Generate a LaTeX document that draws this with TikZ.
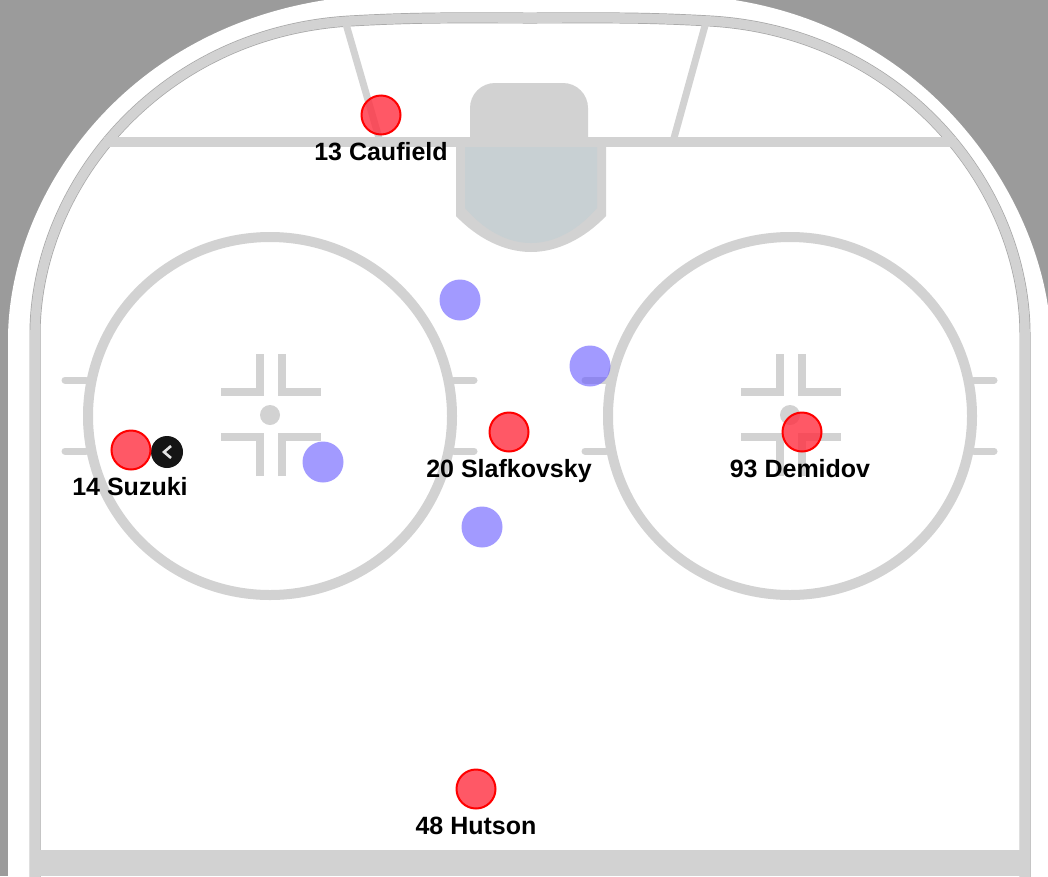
\documentclass[tikz,border=0pt]{standalone}
\usepackage{fontspec}
\setmainfont{Liberation Sans}
\definecolor{bgrey}{HTML}{9B9B9B}
\definecolor{lineg}{HTML}{D2D2D2}
\definecolor{edgeg}{HTML}{A6A6A6}
\definecolor{creaseblue}{HTML}{C8D0D3}
\definecolor{redfill}{RGB}{255,47,64}
\definecolor{bluefill}{RGB}{100,88,255}
\definecolor{puckblack}{HTML}{151515}
\tikzset{
  rinkline/.style={draw=lineg,line width=#1},
  rinkline/.default=7pt,
  hashmark/.style={draw=lineg,line width=7pt,line cap=round},
  facemark/.style={draw=lineg,line width=7.5pt},
  redplayer/.style={circle,draw=red,line width=2pt,fill=redfill,fill opacity=.8,minimum size=39pt,inner sep=0pt},
  blueplayer/.style={circle,fill=bluefill,fill opacity=.6,minimum size=41pt,inner sep=0pt},
  plabel/.style={font=\bfseries\fontsize{25}{27}\selectfont,text=black,inner sep=0pt,anchor=base},
  boardpath/.style={insert path={(35,880) -- (35,335) .. controls (35,185) and (160,32) .. (350,21) .. controls (420,17) and (460,18) .. (530,18) .. controls (600,18) and (640,17) .. (710,21) .. controls (900,32) and (1025,185) .. (1025,335) -- (1025,880)}},
  surroundpath/.style={insert path={(8,880) -- (8,340) .. controls (8,200) and (120,25) .. (340,-2) -- (720,-2) .. controls (940,25) and (1051,215) .. (1051,345) -- (1051,880) -- cycle}}
}
\begin{document}
\begin{tikzpicture}[x=1pt,y=-1pt]
\useasboundingbox (0,0) rectangle (1048,876);
\clip (0,0) rectangle (1048,876);
\fill[bgrey] (0,0) rectangle (1048,876);
% white rink surround
\fill[white,surroundpath];
% boards
\draw[edgeg,line width=11pt,boardpath];
\draw[lineg,line width=9.6pt,boardpath];
\fill[lineg] (29.5,850) rectangle (1030,876);
% goal lines and trapezoid
\draw[rinkline=10pt] (104,142) -- (956,142);
\draw[rinkline=7pt] (346,24) -- (379,138);
\draw[rinkline=7pt] (706,22) -- (674,138);
% net
\fill[lineg,rounded corners=25pt] (470,170) -- (470,83) -- (588,83) -- (588,170) -- cycle;
% crease
\fill[lineg] (456,137) -- (606,137) -- (606,216) .. controls (585,238) and (558,252) .. (531,252) .. controls (504,252) and (477,238) .. (456,216) -- cycle;
\fill[creaseblue] (465,147) -- (597,147) -- (597,208) .. controls (578,230) and (555,243) .. (531,243) .. controls (507,243) and (484,230) .. (465,208) -- cycle;
% faceoff circles
\foreach \cx in {270,790}{
  \draw[rinkline=10pt] (\cx,416) ellipse [x radius=182,y radius=179];
  \fill[lineg] (\cx,415) circle (10);
  \draw[facemark] (\cx-10,354) -- (\cx-10,392) -- (\cx-49,392);
  \draw[facemark] (\cx+12,354) -- (\cx+12,392) -- (\cx+51,392);
  \draw[facemark] (\cx-10,476) -- (\cx-10,437) -- (\cx-49,437);
  \draw[facemark] (\cx+12,476) -- (\cx+12,437) -- (\cx+51,437);
  \foreach \hy in {380,451}{
    \draw[hashmark] (\cx-205,\hy) -- (\cx-184,\hy);
    \draw[hashmark] (\cx+184,\hy) -- (\cx+204,\hy);
  }
}
% defenders
\node[blueplayer] (b1) at (460,300) {};
\node[blueplayer] (b2) at (590,366) {};
\node[blueplayer] (b3) at (323,462) {};
\node[blueplayer] (b4) at (482,527) {};
% puck icon
\node[circle,fill=puckblack,minimum size=32pt,inner sep=0pt] (puck) at (167,452) {};
\draw[white!90!black,line width=2.6pt] (171,446) -- (164,452) -- (171,458);
% attackers
\node[redplayer] (caufield) at (381,115) {};
\node[redplayer] (suzuki) at (131,450) {};
\node[redplayer] (slaf) at (509,432) {};
\node[redplayer] (demidov) at (802,432) {};
\node[redplayer] (hutson) at (476,789) {};
% labels
\node[plabel] (lcaufield) at (381,160) {13 Caufield};
\node[plabel] (lsuzuki) at (130,495) {14 Suzuki};
\node[plabel] (lslaf) at (509,477) {20 Slafkovsky};
\node[plabel] (ldemidov) at (800,477) {93 Demidov};
\node[plabel] (lhutson) at (476,834) {48 Hutson};
\end{tikzpicture}
\end{document}
